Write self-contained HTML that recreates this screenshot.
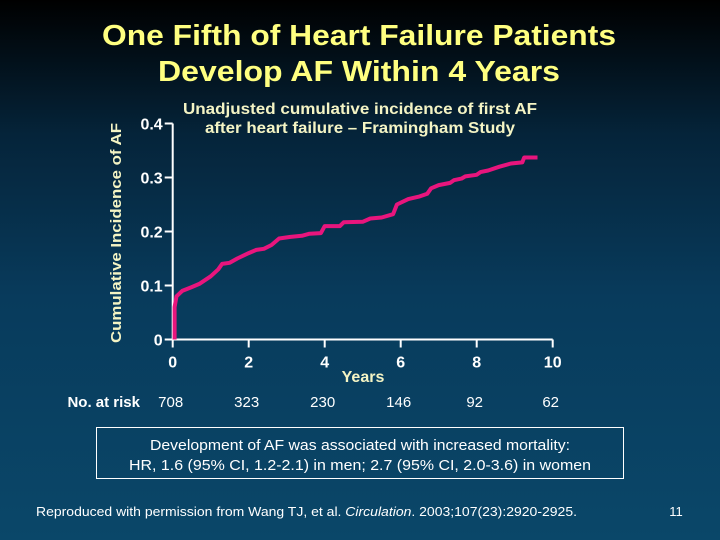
<!DOCTYPE html>
<html><head><meta charset="utf-8"><style>
html,body{margin:0;padding:0;}
body{width:720px;height:540px;overflow:hidden;background:linear-gradient(to bottom,#000000 0%,#05243a 25%,#083b5c 55%,#0a4769 100%);}
svg{display:block;font-family:"Liberation Sans",Arial,sans-serif;}
</style></head><body>
<svg id="chart" width="720" height="540" viewBox="0 0 720 540">
<text x="359" y="45" text-anchor="middle" font-size="29" font-weight="bold" fill="#ffff80" textLength="514" lengthAdjust="spacingAndGlyphs">One Fifth of Heart Failure Patients</text>
<text x="359" y="81" text-anchor="middle" font-size="29" font-weight="bold" fill="#ffff80" textLength="402" lengthAdjust="spacingAndGlyphs">Develop AF Within 4 Years</text>
<text x="360" y="114" text-anchor="middle" font-size="16" font-weight="bold" fill="#f4f4c4" textLength="354" lengthAdjust="spacingAndGlyphs">Unadjusted cumulative incidence of first AF</text>
<text x="360" y="133" text-anchor="middle" font-size="16" font-weight="bold" fill="#f4f4c4" textLength="310" lengthAdjust="spacingAndGlyphs">after heart failure – Framingham Study</text>
<text transform="translate(121,233) rotate(-90)" text-anchor="middle" font-size="15" font-weight="bold" fill="#f4f4c4" textLength="220" lengthAdjust="spacingAndGlyphs">Cumulative Incidence of AF</text>
<text x="363" y="382" text-anchor="middle" font-size="16" font-weight="bold" fill="#f4f4c4">Years</text>
<g id="axes"></g>
<g id="marks"></g>
<g id="risk"></g>
<text x="140" y="407" text-anchor="end" font-size="15" font-weight="bold" fill="#ffffff">No. at risk</text>
<rect x="96.5" y="427.5" width="527" height="51" fill="none" stroke="#ffffff" stroke-width="1"/>
<text x="360" y="450" text-anchor="middle" font-size="15" fill="#ffffff" textLength="420" lengthAdjust="spacingAndGlyphs">Development of AF was associated with increased mortality:</text>
<text x="360" y="470" text-anchor="middle" font-size="15" fill="#ffffff" textLength="462" lengthAdjust="spacingAndGlyphs">HR, 1.6 (95% CI, 1.2-2.1) in men; 2.7 (95% CI, 2.0-3.6) in women</text>
<text x="36" y="516" font-size="13" fill="#ffffff" textLength="541" lengthAdjust="spacingAndGlyphs">Reproduced with permission from Wang TJ, et al. <tspan font-style="italic">Circulation</tspan>. 2003;107(23):2920-2925.</text>
<text x="676" y="516" text-anchor="middle" font-size="13" fill="#ffffff">11</text>
</svg>
<script>
const xTicks = [0, 2, 4, 6, 8, 10];
const yTicks = [0, 0.1, 0.2, 0.3, 0.4];
const yTickLabels = ["0", "0.1", "0.2", "0.3", "0.4"];
const riskCounts = [708, 323, 230, 146, 92, 62];
const years = [0.05,0.05,0.1,0.25,0.5,0.7,1.0,1.2,1.3,1.5,1.7,2.0,2.2,2.4,2.6,2.8,3.1,3.4,3.6,3.9,4.0,4.4,4.5,5.0,5.2,5.5,5.8,5.9,6.2,6.5,6.7,6.8,7.0,7.3,7.4,7.6,7.7,8.0,8.1,8.3,8.6,8.9,9.2,9.25,9.6];
const incidence = [0,0.06,0.08,0.09,0.097,0.103,0.117,0.13,0.14,0.142,0.15,0.16,0.166,0.168,0.175,0.187,0.19,0.192,0.196,0.197,0.21,0.21,0.217,0.218,0.224,0.226,0.232,0.25,0.26,0.265,0.27,0.28,0.286,0.29,0.295,0.298,0.302,0.305,0.31,0.313,0.32,0.326,0.328,0.337,0.337];

const NS = "http://www.w3.org/2000/svg";
const X0 = 172.7, X1 = 552.7, Y0 = 339.5, Y1 = 123.5;
function xs(v){ return X0 + (v - 0) / 10 * (X1 - X0); }
function ys(v){ return Y0 - v / 0.4 * (Y0 - Y1); }
function mk(tag, attrs, parent){
  const e = document.createElementNS(NS, tag);
  for (const k in attrs) e.setAttribute(k, attrs[k]);
  parent.appendChild(e);
  return e;
}
const axes = document.getElementById('axes');
const yAxis = mk('line', {x1:X0, y1:Y1, x2:X0, y2:Y0, stroke:'#ffffff', 'stroke-width':2}, axes);


const xAxis = mk('line', {x1:X0, y1:Y0, x2:X1, y2:Y0, stroke:'#ffffff', 'stroke-width':2}, axes);


yTicks.forEach((t, i) => {
  const y = ys(t);
  const tk = mk('line', {x1:X0-8, y1:y, x2:X0, y2:y, stroke:'#ffffff', 'stroke-width':2}, axes);
  
  
  const lb = mk('text', {x:X0-10, y:y+6, 'text-anchor':'end', 'font-size':16, 'font-weight':'bold', fill:'#ffffff'}, axes);
  lb.textContent = yTickLabels[i];
  
  
});
xTicks.forEach(t => {
  const x = xs(t);
  const tk = mk('line', {x1:x, y1:Y0, x2:x, y2:Y0+8, stroke:'#ffffff', 'stroke-width':2}, axes);
  
  
  const lb = mk('text', {x:x, y:Y0+28, 'text-anchor':'middle', 'font-size':16, 'font-weight':'bold', fill:'#ffffff'}, axes);
  lb.textContent = String(t);
  
  
});
const risk = document.getElementById('risk');
riskCounts.forEach((c, i) => {
  const lb = mk('text', {x:xs(xTicks[i]) - 2, y:407, 'text-anchor':'middle', 'font-size':15, fill:'#ffffff'}, risk);
  lb.textContent = String(c);
  
  
});
let d = '';
years.forEach((yr, i) => {
  d += (i === 0 ? 'M' : 'L') + xs(yr).toFixed(1) + ',' + ys(incidence[i]).toFixed(1) + ' ';
});
const line = mk('path', {d:d, fill:'none', stroke:'#e8157d', 'stroke-width':4, 'stroke-linejoin':'round'}, document.getElementById('marks'));


</script>
</body></html>
